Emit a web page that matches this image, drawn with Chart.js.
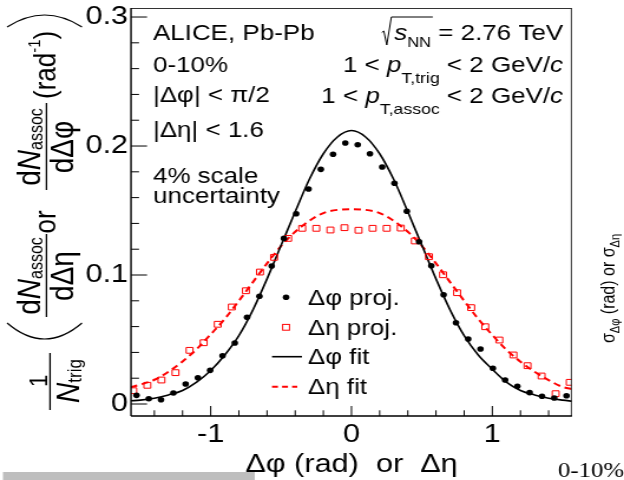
<!DOCTYPE html>
<html>
<head>
<meta charset="utf-8">
<script src="https://cdn.jsdelivr.net/npm/chart.js@4.4.1/dist/chart.umd.min.js"></script>
<style>
  html, body { margin: 0; padding: 0; background: #fff; overflow: hidden; }
  /* the reference is stretched horizontally; draw narrower and stretch */
  #wrap { width: 529px; height: 480px; transform: scale(1.1796, 1); transform-origin: 0 0; }
  #c { display: block; }
</style>
</head>
<body>
<div id="wrap"><canvas id="c" width="529" height="480"></canvas></div>
<script>
// projections
const phiBins = [-1.527, -1.440, -1.353, -1.265, -1.178, -1.091, -1.004, -0.916, -0.829, -0.742, -0.654, -0.567,
                 -0.480, -0.393, -0.305, -0.218, -0.131, -0.044, 0.044, 0.131, 0.218, 0.305, 0.393, 0.480,
                 0.567, 0.654, 0.742, 0.829, 0.916, 1.004, 1.091, 1.178, 1.265, 1.353, 1.440, 1.527];
const phiProj = [0.0067, 0.0041, 0.0033, 0.0085, 0.0155, 0.0204, 0.0261, 0.0374, 0.0473, 0.0672, 0.0835, 0.1070,
                 0.1284, 0.1475, 0.1667, 0.1819, 0.1936, 0.2023, 0.2010, 0.1940, 0.1837, 0.1711, 0.1494, 0.1258,
                 0.1072, 0.0847, 0.0630, 0.0504, 0.0426, 0.0277, 0.0186, 0.0137, 0.0088, 0.0060, 0.0047, 0.0064];

const etaBins = [-1.55, -1.45, -1.35, -1.25, -1.15, -1.05, -0.95, -0.85, -0.75, -0.65, -0.55, -0.45, -0.35, -0.25, -0.15, -0.05,
                 0.05, 0.15, 0.25, 0.35, 0.45, 0.55, 0.65, 0.75, 0.85, 0.95, 1.05, 1.15, 1.25, 1.35, 1.45, 1.55];
const etaProj = [0.0103, 0.0145, 0.0186, 0.0243, 0.0416, 0.0475, 0.0618, 0.0752, 0.0878, 0.1023, 0.1137, 0.1284, 0.1362, 0.1362, 0.1349, 0.1367,
                 0.1347, 0.1362, 0.1362, 0.1364, 0.1264, 0.1142, 0.1002, 0.0863, 0.0747, 0.0599, 0.0496, 0.0380, 0.0297, 0.0217, 0.0080, 0.0168];

// fit curves
const fitX = [-1.57, -1.5, -1.4, -1.3, -1.2, -1.1, -1.0, -0.9, -0.8, -0.7, -0.6, -0.5, -0.4, -0.3, -0.2, -0.1, 0,
              0.1, 0.2, 0.3, 0.4, 0.5, 0.6, 0.7, 0.8, 0.9, 1.0, 1.1, 1.2, 1.3, 1.4, 1.5, 1.57];
const phiFit = [0.0025, 0.003, 0.0045, 0.007, 0.0105, 0.017, 0.026, 0.038, 0.053, 0.073, 0.097, 0.123, 0.149, 0.174, 0.194, 0.207, 0.212,
                0.207, 0.194, 0.174, 0.149, 0.123, 0.097, 0.073, 0.053, 0.038, 0.027, 0.017, 0.0105, 0.007, 0.0045, 0.003, 0.0022];
const etaFit = [0.013, 0.015, 0.0188, 0.025, 0.033, 0.0425, 0.054, 0.066, 0.080, 0.0945, 0.109, 0.1225, 0.1335, 0.142, 0.148, 0.1505, 0.151,
                0.1505, 0.148, 0.142, 0.1335, 0.1225, 0.109, 0.0945, 0.080, 0.066, 0.0535, 0.042, 0.0328, 0.025, 0.0185, 0.0132, 0.0115];

const xTicks = [-1, 0, 1];
const yTicks = [0, 0.1, 0.2, 0.3];

const FAM = '"Liberation Sans", Arial, Helvetica, sans-serif';
const font = (px, style) => (style ? style + ' ' : '') + px + 'px ' + FAM;
const RED = '#ff0000';

Chart.defaults.color = '#000';
Chart.defaults.font.family = FAM;

const pts = (xs, ys) => xs.map((x, i) => ({x: x, y: ys[i]}));

// draw a run of text pieces (for sub/superscripts)
function rich(ctx, parts, x, y, align) {
  let total = 0;
  parts.forEach(p => { ctx.font = p.f; p.w = ctx.measureText(p.t).width; total += p.w; });
  let cx = align === 'right' ? x - total : align === 'center' ? x - total / 2 : x;
  const start = cx;
  parts.forEach(p => { ctx.font = p.f; p.x = cx; ctx.fillText(p.t, cx, y + (p.dy || 0)); cx += p.w; });
  return {start: start, end: cx, parts: parts};
}

const rootStyle = {
  id: 'rootStyle',
  afterDraw(chart) {
    const ctx = chart.ctx;
    const a = chart.chartArea;
    const xs = chart.scales.x, ys = chart.scales.y;
    ctx.save();
    ctx.fillStyle = '#000';
    ctx.strokeStyle = '#000';
    ctx.textAlign = 'left';
    ctx.textBaseline = 'alphabetic';

    // frame
    ctx.lineWidth = 1;
    ctx.strokeStyle = '#333';
    ctx.beginPath();
    ctx.moveTo(a.left, a.top + 0.5); ctx.lineTo(a.right, a.top + 0.5);
    ctx.moveTo(a.right - 0.5, a.top); ctx.lineTo(a.right - 0.5, a.bottom);
    ctx.stroke();
    ctx.strokeStyle = '#000';
    ctx.lineWidth = 1.4;
    ctx.beginPath();
    ctx.moveTo(a.left, a.top); ctx.lineTo(a.left, a.bottom);
    ctx.moveTo(a.left, a.bottom); ctx.lineTo(a.right, a.bottom);
    ctx.stroke();

    // inward ticks
    ctx.lineWidth = 1;
    ctx.beginPath();
    for (let i = 0; i <= 15; i++) {
      const py = ys.getPixelForValue(i * 0.02);
      const len = i % 5 === 0 ? 13.6 : 6.8;
      ctx.moveTo(a.left, py); ctx.lineTo(a.left + len, py);
    }
    for (let i = -7; i <= 7; i++) {
      const px = xs.getPixelForValue(i * 0.2);
      const len = i % 5 === 0 ? 10 : 5.7;
      ctx.moveTo(px, a.bottom); ctx.lineTo(px, a.bottom - len);
    }
    ctx.stroke();

    // upper left block
    const lx = 129.7;
    ctx.font = font(22);
    ctx.fillText('ALICE, Pb-Pb', lx, 40);
    ctx.fillText('0-10%', lx, 71.5);
    ctx.fillText('|\u0394\u03c6| < \u03c0/2', lx, 102);
    ctx.fillText('|\u0394\u03b7| < 1.6', lx, 137);
    ctx.fillText('4% scale', lx, 183);
    ctx.fillText('uncertainty', lx, 203);

    // upper right block
    const rx = 477.3;
    const r1 = rich(ctx, [
      {t: 's', f: font(22, 'italic')},
      {t: 'NN', f: font(14), dy: 7},
      {t: ' = 2.76 TeV', f: font(22)}
    ], rx, 39.5, 'right');
    const s0 = r1.start, b = 39.5;
    ctx.lineWidth = 1;
    ctx.beginPath();
    ctx.moveTo(s0 - 10.5, b - 7);
    ctx.lineTo(s0 - 8.8, b - 8.5);
    ctx.lineTo(s0 - 6.3, b + 5.5);
    ctx.lineTo(s0 - 2.4, b - 22.5);
    ctx.lineTo(r1.parts[1].x + r1.parts[1].w + 1.5, b - 22.5);
    ctx.stroke();
    rich(ctx, [
      {t: '1 < ', f: font(22)},
      {t: 'p', f: font(22, 'italic')},
      {t: 'T,trig', f: font(15), dy: 11},
      {t: ' < 2 GeV/', f: font(22)},
      {t: 'c', f: font(22, 'italic')}
    ], rx, 71.7, 'right');
    rich(ctx, [
      {t: '1 < ', f: font(22)},
      {t: 'p', f: font(22, 'italic')},
      {t: 'T,assoc', f: font(15), dy: 11},
      {t: ' < 2 GeV/', f: font(22)},
      {t: 'c', f: font(22, 'italic')}
    ], rx, 103, 'right');

    // legend
    const mx = 242.5, tx = 261;
    ctx.font = font(22);
    ctx.fillText('\u0394\u03c6 proj.', tx, 305);
    ctx.fillText('\u0394\u03b7 proj.', tx, 334.5);
    ctx.fillText('\u0394\u03c6 fit', tx, 363.5);
    ctx.fillText('\u0394\u03b7 fit', tx, 394);
    ctx.beginPath(); ctx.arc(mx, 297.3, 2.8, 0, Math.PI * 2); ctx.fill();
    ctx.strokeStyle = RED; ctx.lineWidth = 1;
    ctx.strokeRect(mx - 2.9, 327.3 - 2.9, 5.8, 5.8);
    ctx.strokeStyle = '#000'; ctx.lineWidth = 1.6;
    ctx.beginPath(); ctx.moveTo(230.6, 356.7); ctx.lineTo(256, 356.7); ctx.stroke();
    ctx.strokeStyle = RED; ctx.lineWidth = 2; ctx.setLineDash([5, 3.5]);
    ctx.beginPath(); ctx.moveTo(230.6, 386.7); ctx.lineTo(252, 386.7); ctx.stroke();
    ctx.setLineDash([]);

    // y title: big brackets
    ctx.strokeStyle = '#000'; ctx.lineWidth = 1.2;
    ctx.beginPath(); ctx.moveTo(6, 27); ctx.quadraticCurveTo(37.8, 3, 69.5, 27); ctx.stroke();
    ctx.beginPath(); ctx.moveTo(6, 323); ctx.quadraticCurveTo(37.8, 355, 69.5, 323); ctx.stroke();

    // y title text, rotated
    ctx.save();
    ctx.translate(0, 480);
    ctx.rotate(-Math.PI / 2);
    ctx.lineWidth = 1.3;
    // 1 / N_trig
    rich(ctx, [{t: '1', f: font(22)}], 99, 39.8, 'center');
    ctx.beginPath(); ctx.moveTo(70, 42.4); ctx.lineTo(127, 42.4); ctx.stroke();
    rich(ctx, [{t: 'N', f: font(28, 'italic')}, {t: 'trig', f: font(17), dy: 2}], 99, 66.6, 'center');
    // dN/dDeta
    rich(ctx, [{t: 'd', f: font(28)}, {t: 'N', f: font(28, 'italic')}, {t: 'assoc', f: font(16), dy: 2}], 204, 33.9, 'center');
    ctx.beginPath(); ctx.moveTo(163, 39.4); ctx.lineTo(246, 39.4); ctx.stroke();
    rich(ctx, [{t: 'd\u0394\u03b7', f: font(28)}], 204, 62, 'center');
    // or
    rich(ctx, [{t: 'or', f: font(26)}], 258, 46.6, 'center');
    // dN/dDphi
    rich(ctx, [{t: 'd', f: font(28)}, {t: 'N', f: font(28, 'italic')}, {t: 'assoc', f: font(16), dy: 2}], 333, 33.9, 'center');
    ctx.beginPath(); ctx.moveTo(290, 39.4); ctx.lineTo(377, 39.4); ctx.stroke();
    rich(ctx, [{t: 'd\u0394\u03c6', f: font(28)}], 333, 62, 'center');
    // (rad^-1)
    rich(ctx, [{t: '(rad', f: font(26)}, {t: '-1', f: font(15), dy: -13}, {t: ')', f: font(26)}], 381, 46.6, 'left');

    // right edge label from the next panel
    rich(ctx, [
      {t: '\u03c3', f: font(16)},
      {t: '\u0394\u03c6', f: font(11), dy: 4},
      {t: ' (rad) or ', f: font(16)},
      {t: '\u03c3', f: font(16)},
      {t: '\u0394\u03b7', f: font(11), dy: 4}
    ], 137, 520.5, 'left');
    ctx.restore();

    // bottom right stray label and grey bar
    ctx.font = '21px "Liberation Serif", "Times New Roman", serif';
    ctx.fillText('0-10%', 473, 477);
    ctx.fillStyle = '#bebebe';
    ctx.fillRect(2.5, 472, 213.5, 8);

    ctx.restore();
  }
};

new Chart(document.getElementById('c'), {
  type: 'scatter',
  data: {
    datasets: [
      {
        label: '\u0394\u03c6 proj.',
        data: pts(phiBins, phiProj),
        pointStyle: 'circle',
        pointRadius: 2.8,
        pointBackgroundColor: '#000',
        pointBorderWidth: 0,
        showLine: false
      },
      {
        label: '\u0394\u03b7 proj.',
        data: pts(etaBins, etaProj),
        pointStyle: 'rect',
        pointRadius: 4.1,
        pointBackgroundColor: 'rgba(0,0,0,0)',
        pointBorderColor: RED,
        pointBorderWidth: 1,
        showLine: false
      },
      {
        label: '\u0394\u03c6 fit',
        data: pts(fitX, phiFit),
        showLine: true,
        pointRadius: 0,
        borderColor: '#000',
        borderWidth: 1.6,
        cubicInterpolationMode: 'monotone'
      },
      {
        label: '\u0394\u03b7 fit',
        data: pts(fitX, etaFit),
        showLine: true,
        pointRadius: 0,
        borderColor: RED,
        borderWidth: 2,
        borderDash: [6, 4],
        cubicInterpolationMode: 'monotone'
      }
    ]
  },
  options: {
    responsive: false,
    animation: false,
    devicePixelRatio: 1,
    layout: { padding: { left: 0, right: 44.1, top: 8, bottom: 0 } },
    plugins: {
      legend: { display: false },
      tooltip: { enabled: false }
    },
    scales: {
      x: {
        type: 'linear',
        min: -1.566,
        max: 1.566,
        grid: { display: false, drawTicks: false },
        border: { display: false },
        afterBuildTicks: s => { s.ticks = xTicks.map(v => ({value: v})); },
        afterFit: s => { s.height = 64; s.paddingLeft = 0; s.paddingRight = 0; },
        ticks: {
          autoSkip: false,
          maxRotation: 0,
          padding: 3,
          font: { size: 26 },
          callback: v => String(v)
        },
        title: {
          display: true,
          text: '\u0394\u03c6 (rad)  or  \u0394\u03b7',
          font: { size: 26 },
          padding: { top: 0, bottom: 0 }
        }
      },
      y: {
        min: -0.0093,
        max: 0.307,
        grid: { display: false, drawTicks: false },
        border: { display: false },
        afterBuildTicks: s => { s.ticks = yTicks.map(v => ({value: v})); },
        afterFit: s => { s.width = 111.06; s.paddingTop = 0; s.paddingBottom = 0; },
        ticks: {
          autoSkip: false,
          padding: 2.5,
          font: { size: 26 },
          callback: v => String(v)
        }
      }
    }
  },
  plugins: [rootStyle]
});
</script>
</body>
</html>
